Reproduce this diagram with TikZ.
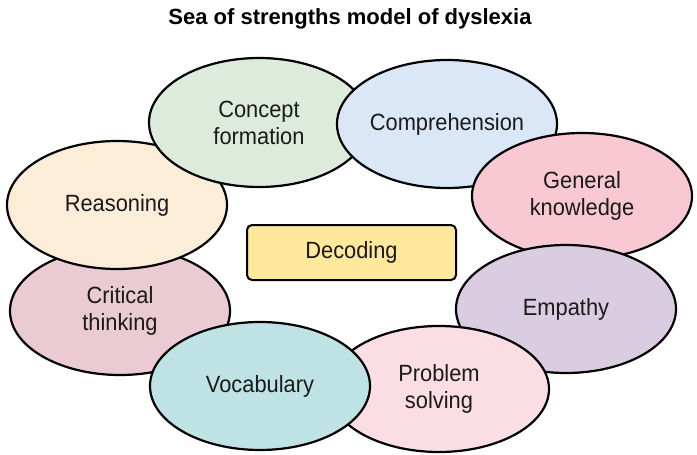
\documentclass[tikz,border=0pt]{standalone}
\usepackage{fontspec}
\setmainfont{Liberation Sans}
\newfontfamily\narrowsans[FakeStretch=0.93]{Liberation Sans}
\usetikzlibrary{shapes.geometric}
\definecolor{cConcept}{HTML}{DDEBDD}
\definecolor{cCompre}{HTML}{D9E7F7}
\definecolor{cGeneral}{HTML}{F8C8D3}
\definecolor{cReason}{HTML}{FBEDD8}
\definecolor{cCritical}{HTML}{EACAD3}
\definecolor{cEmpathy}{HTML}{DACDE1}
\definecolor{cProblem}{HTML}{FBDDE4}
\definecolor{cVocab}{HTML}{BFE3E5}
\definecolor{cDecode}{HTML}{FDE89C}
\definecolor{cText}{HTML}{1A1A1A}
\tikzset{
  strength/.style={ellipse, draw=black, line width=2.2pt, inner sep=0pt,
    minimum width=220pt, minimum height=128pt, align=center,
    text=cText, font=\narrowsans\fontsize{23.5}{27}\selectfont},
  centrebox/.style={rectangle, rounded corners=5pt, draw=black, line width=2pt,
    fill=cDecode, minimum width=209pt, minimum height=55pt, inner sep=0pt,
    text=cText, font=\narrowsans\fontsize{23.5}{27}\selectfont},
  titletext/.style={font=\fontsize{22}{26}\selectfont\bfseries, text=black}
}
\begin{document}
\begin{tikzpicture}[x=1pt,y=-1pt]
\useasboundingbox (0,0) rectangle (697,455);
\node[titletext] (title) at (350,19) {Sea of strengths model of dyslexia};
\node[strength, fill=cCritical] (critical) at (120,311) {Critical\\thinking};
\node[strength, fill=cReason] (reasoning) at (117,205) {Reasoning};
\node[strength, fill=cConcept, minimum height=129pt] (concept) at (259,122.5) {Concept\\formation};
\node[strength, fill=cCompre] (compre) at (447,124) {Comprehension};
\node[strength, fill=cGeneral, minimum height=126pt] (general) at (582,196) {General\\knowledge};
\node[strength, fill=cEmpathy] (empathy) at (566,309) {Empathy};
\node[strength, fill=cProblem, minimum height=126pt] (problem) at (439,389) {Problem\\solving};
\node[strength, fill=cVocab] (vocab) at (260,386) {Vocabulary};
\node[centrebox] (decoding) at (351.5,252.5) {Decoding};
\end{tikzpicture}
\end{document}
